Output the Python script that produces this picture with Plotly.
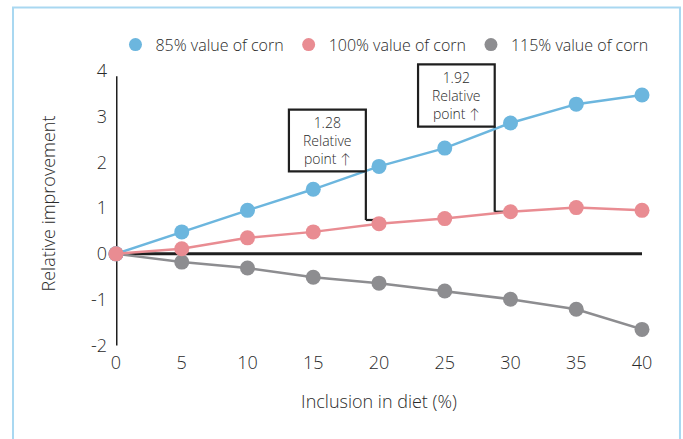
import plotly.graph_objects as go

# Inclusion level of the ingredient in the diet (%)
inclusion = [0, 5, 10, 15, 20, 25, 30, 35, 40]

# Relative improvement at three corn valuations
corn_85 = [0, 0.48, 0.95, 1.41, 1.91, 2.31, 2.86, 3.27, 3.47]
corn_100 = [0, 0.11, 0.35, 0.48, 0.66, 0.77, 0.92, 1.01, 0.95]
corn_115 = [0, -0.18, -0.31, -0.51, -0.64, -0.81, -0.99, -1.21, -1.65]

series_names = ["85% value of corn", "100% value of corn", "115% value of corn"]
series_colors = ["#6cb6de", "#e98c92", "#8d8d90"]

y_ticks = [-2, -1, 0, 1, 2, 3, 4]
x_ticks = inclusion

# Callouts: label, inclusion level where the gap is read, and the two series values there
callouts = [
    ("1.28", 20, corn_85[4], corn_100[4]),
    ("1.92", 30, corn_85[6], corn_100[6]),
]

FONT = "'Open Sans', Lato, sans-serif"
TEXT = "#2a2a2a"
INK = "#1f1f1f"

fig = go.Figure()

# Axis cross: vertical y-axis line and zero baseline
fig.add_shape(type="line", x0=0, x1=0, y0=-2, y1=3.88, xref="x", yref="y",
              line=dict(color=INK, width=3), layer="below")
fig.add_shape(type="line", x0=0, x1=40, y0=0, y1=0, xref="x", yref="y",
              line=dict(color=INK, width=3), layer="below")

# Box extents and the level where each bracket turns toward the lower series
bracket_geom = [
    # box x0, box x1, box y0, box y1, bracket bottom y
    (13.15, 19.0, 1.80, 3.15, 0.74),
    (22.97, 28.8, 2.78, 4.14, 0.92),
]
for (label, gx, top, low), (bx0, bx1, by0, by1, ybot) in zip(callouts, bracket_geom):
    fig.add_shape(type="line", x0=bx1, x1=bx1, y0=by0, y1=ybot, xref="x", yref="y",
                  line=dict(color=INK, width=2.2), layer="below")
    fig.add_shape(type="line", x0=bx1, x1=gx, y0=ybot, y1=ybot, xref="x", yref="y",
                  line=dict(color=INK, width=2.2), layer="below")

traces = list(zip(series_names, series_colors, [corn_85, corn_100, corn_115]))
# grey first, then blue, then pink on top (pink marker sits on top at the origin)
for name, color, vals in [traces[2], traces[0], traces[1]]:
    fig.add_trace(go.Scatter(
        x=inclusion, y=vals, name=name, mode="lines+markers",
        line=dict(color=color, width=2.5),
        marker=dict(color=color, size=15, line=dict(width=0)),
        cliponaxis=False, showlegend=False,
    ))

# Legend entries: plain circles
for name, color, vals in traces:
    fig.add_trace(go.Scatter(
        x=[None], y=[None], name=name, mode="markers",
        marker=dict(color=color, size=13, line=dict(width=0)),
        showlegend=True,
    ))

# Callout boxes with text, drawn above the lines
for (label, gx, top, low), (bx0, bx1, by0, by1, ybot) in zip(callouts, bracket_geom):
    fig.add_shape(type="rect", x0=bx0, x1=bx1, y0=by0, y1=by1, xref="x", yref="y",
                  line=dict(color=INK, width=2.2), fillcolor="white", layer="above")
    fig.add_annotation(x=(bx0 + bx1) / 2, y=(by0 + by1) / 2, xref="x", yref="y",
                       text=f"{label}<br>Relative<br>point ↑", showarrow=False,
                       font=dict(family=FONT, size=14, color=TEXT, weight=300), align="center")

# Light blue frame around the panel
fig.add_shape(type="rect", xref="paper", yref="paper",
              x0=-0.1958, x1=1.0722, y0=-0.33, y1=1.1687,
              line=dict(color="#a9d8f1", width=2), fillcolor="rgba(0,0,0,0)")

fig.update_layout(
    width=683, height=439,
    margin=dict(l=116, r=41, t=57, b=89, autoexpand=False),
    paper_bgcolor="white", plot_bgcolor="white",
    font=dict(family=FONT, color=TEXT, size=18, weight=300),
    showlegend=True,
    legend=dict(orientation="h", x=-0.001, y=1.042, xanchor="left", yanchor="middle",
                font=dict(family=FONT, size=16, color=TEXT, weight=300),
                itemwidth=30, traceorder="normal", bgcolor="rgba(0,0,0,0)"),
    xaxis=dict(range=[0, 40], tickvals=x_ticks, ticktext=[str(v) for v in x_ticks],
               showgrid=False, zeroline=False, showline=False, ticks="",
               tickfont=dict(size=18, color=TEXT, weight=300),
               title=dict(text="Inclusion in diet (%)",
                          font=dict(size=18, color=TEXT, weight=300), standoff=22)),
    yaxis=dict(range=[-2.1, 4.3], tickvals=y_ticks, ticktext=[str(v) for v in y_ticks],
               showgrid=False, zeroline=False, showline=False, ticks="",
               ticklabelstandoff=8,
               tickfont=dict(size=18, color=TEXT, weight=300),
               title=dict(text="Relative improvement",
                          font=dict(size=18, color=TEXT, weight=300), standoff=30)),
)

fig.write_html("out.html")
